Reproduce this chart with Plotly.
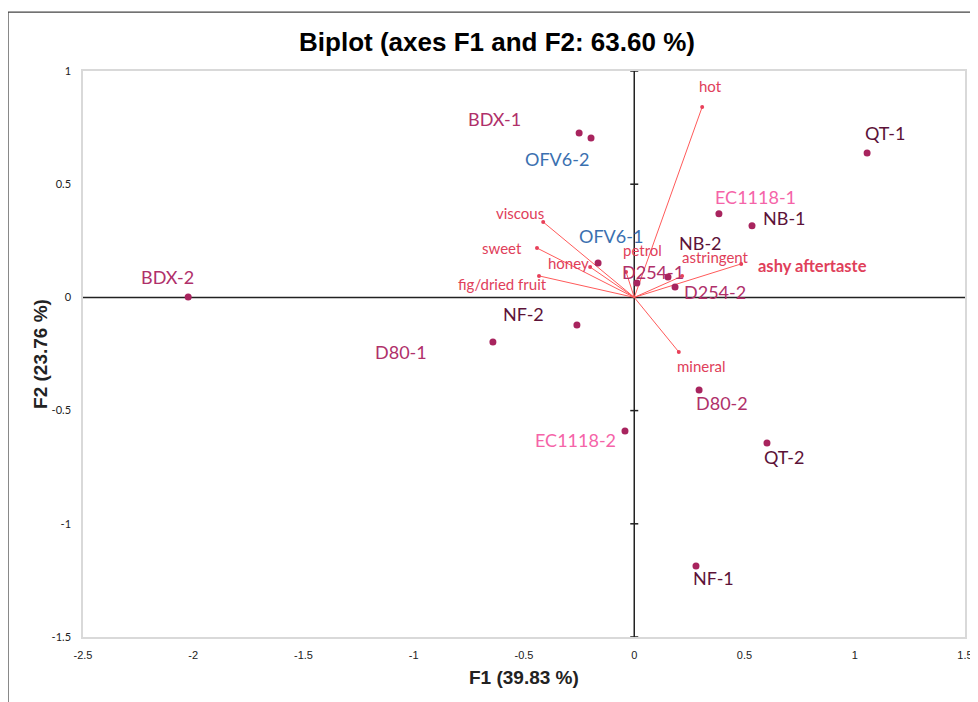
import plotly.graph_objects as go

# ---------------- data ----------------
samples = ["BDX-2", "BDX-1", "OFV6-2", "QT-1", "EC1118-1", "NB-1", "OFV6-1", "NB-2",
           "D254-1", "D254-2", "NF-2", "D80-1", "D80-2", "EC1118-2", "QT-2", "NF-1"]
sample_f1 = [-2.023, -0.250, -0.196, 1.056, 0.384, 0.534, -0.164, 0.153,
             0.012, 0.185, -0.260, -0.641, 0.294, -0.042, 0.602, 0.280]
sample_f2 = [0.002, 0.726, 0.704, 0.638, 0.369, 0.316, 0.152, 0.090,
             0.064, 0.046, -0.122, -0.197, -0.409, -0.590, -0.643, -1.186]

variables = ["hot", "viscous", "sweet", "honey", "fig/dried fruit", "petrol",
             "astringent", "ashy aftertaste", "mineral"]
var_f1 = [0.308, -0.413, -0.441, -0.200, -0.432, -0.037, 0.217, 0.485, 0.202]
var_f2 = [0.841, 0.333, 0.218, 0.134, 0.095, 0.112, 0.094, 0.148, -0.241]

x_ticks = [-2.5, -2, -1.5, -1, -0.5, 0, 0.5, 1, 1.5]
x_ticklabels = ["-2.5", "-2", "-1.5", "-1", "-0.5", "0", "0.5", "1", "1.5"]
y_ticks = [-1.5, -1, -0.5, 0, 0.5, 1]
y_ticklabels = ["-1.5", "-1", "-0.5", "0", "0.5", "1"]

# ---------------- styles / label placement (pixels) ----------------
MAG = "#B0306A"
DARK = "#5C1238"
BLUE = "#3A70B0"
PINK = "#F564A8"
VAR = "#E0405A"
sample_colors = [MAG, MAG, BLUE, DARK, PINK, DARK, BLUE, DARK,
                 MAG, MAG, DARK, MAG, MAG, PINK, DARK, DARK]
sample_shift = [(-21, 20), (-85, 14), (-34, -21), (18, 20), (37, 17), (32, 8),
                (13, 27), (33, 34), (16, 11), (40, -5), (-53, 11), (-92, -10),
                (23, -13), (-49, -9), (18, -14), (18, -12)]
var_shift = [(8, 21), (-23, 9), (-35, 0), (-22, 4), (-36, -8), (16, 22),
             (33, 19), (71, -2), (23, -14)]
var_bold = [False, False, False, False, False, False, False, True, False]
var_size = [15, 15, 15, 15, 15, 15, 15, 16.5, 15]

LABEL_FONT = "Lato, 'Open Sans', sans-serif"
ARIAL = "Liberation Sans, Arial, sans-serif"

fig = go.Figure()

# vectors
lx, ly = [], []
for vx, vy in zip(var_f1, var_f2):
    lx += [0, vx, None]
    ly += [0, vy, None]
fig.add_trace(go.Scatter(x=lx, y=ly, mode="lines",
                         line=dict(color="#FF5A5A", width=1), hoverinfo="skip"))
fig.add_trace(go.Scatter(x=var_f1, y=var_f2, mode="markers",
                         marker=dict(color="#E8405A", size=4), text=variables,
                         hoverinfo="text"))

# observations
fig.add_trace(go.Scatter(x=sample_f1, y=sample_f2, mode="markers",
                         marker=dict(color="#A8245E", size=7), text=samples,
                         hoverinfo="text"))

annotations = []
for name, x, y, c, (dx, dy) in zip(samples, sample_f1, sample_f2, sample_colors, sample_shift):
    annotations.append(dict(x=x, y=y, xref="x", yref="y", text=name, showarrow=False,
                            xshift=dx, yshift=dy,
                            font=dict(family=LABEL_FONT, size=18, color=c)))
for name, x, y, (dx, dy), b, s in zip(variables, var_f1, var_f2, var_shift, var_bold, var_size):
    annotations.append(dict(x=x, y=y, xref="x", yref="y",
                            text=f"<b>{name}</b>" if b else name, showarrow=False,
                            xshift=dx, yshift=dy,
                            font=dict(family=LABEL_FONT, size=s, color=VAR)))
# axis titles
annotations.append(dict(x=0.5, y=-0.0707, xref="paper", yref="paper",
                        text="<b>F1 (39.83 %)</b>", showarrow=False,
                        xanchor="center", yanchor="middle",
                        font=dict(family=ARIAL, size=19, color="#222")))
annotations.append(dict(x=-0.0488, y=0.5, xref="paper", yref="paper",
                        text="<b>F2 (23.76 %)</b>", showarrow=False, textangle=-90,
                        xanchor="center", yanchor="middle",
                        font=dict(family=ARIAL, size=19, color="#222")))

shapes = [
    # crossing axes
    dict(type="line", xref="x", yref="y", x0=0, x1=0, y0=y_ticks[0], y1=y_ticks[-1],
         line=dict(color="#222222", width=1.5), layer="below"),
    dict(type="line", xref="x", yref="y", x0=x_ticks[0], x1=x_ticks[-1], y0=0, y1=0,
         line=dict(color="#222222", width=1.5), layer="below"),
    # outer frame (top/left visible)
    dict(type="rect", xref="paper", yref="paper", x0=-0.085, x1=1.05, y0=-0.2, y1=1.104,
         line=dict(color="#444444", width=1.2), layer="below"),
]
for t in y_ticks:
    if t == 0:
        continue
    shapes.append(dict(type="line", xref="x", yref="y", xsizemode="pixel", xanchor=0,
                       x0=-4, x1=4, y0=t, y1=t, line=dict(color="#222222", width=1.5)))

fig.update_layout(
    width=970, height=694,
    margin=dict(l=75, r=13, t=63, b=65, autoexpand=False),
    paper_bgcolor="white", plot_bgcolor="white",
    showlegend=False,
    title=dict(text="<b>Biplot (axes F1 and F2: 63.60 %)</b>",
               x=489 / 970, xref="container", y=1 - 34 / 694, yref="container",
               xanchor="center", yanchor="middle",
               font=dict(family=ARIAL, size=26, color="black")),
    annotations=annotations,
    shapes=shapes,
)
fig.update_xaxes(range=[x_ticks[0], x_ticks[-1]], tickvals=x_ticks, ticktext=x_ticklabels,
                 showgrid=False, zeroline=False, showline=True, mirror=True,
                 linecolor="#D9D9D9", linewidth=1.5, automargin=False,
                 ticks="outside", ticklen=7, tickcolor="rgba(0,0,0,0)",
                 tickfont=dict(family="Liberation Sans Narrow, Liberation Sans, sans-serif", size=11, color="#222"))
fig.update_yaxes(range=[y_ticks[0], y_ticks[-1]], tickvals=y_ticks, ticktext=y_ticklabels,
                 showgrid=False, zeroline=False, showline=True, mirror=True,
                 linecolor="#D9D9D9", linewidth=1.5, automargin=False,
                 ticks="outside", ticklen=8, tickcolor="rgba(0,0,0,0)",
                 tickfont=dict(family=LABEL_FONT, size=11, color="#222"))

fig.write_html("out.html")
